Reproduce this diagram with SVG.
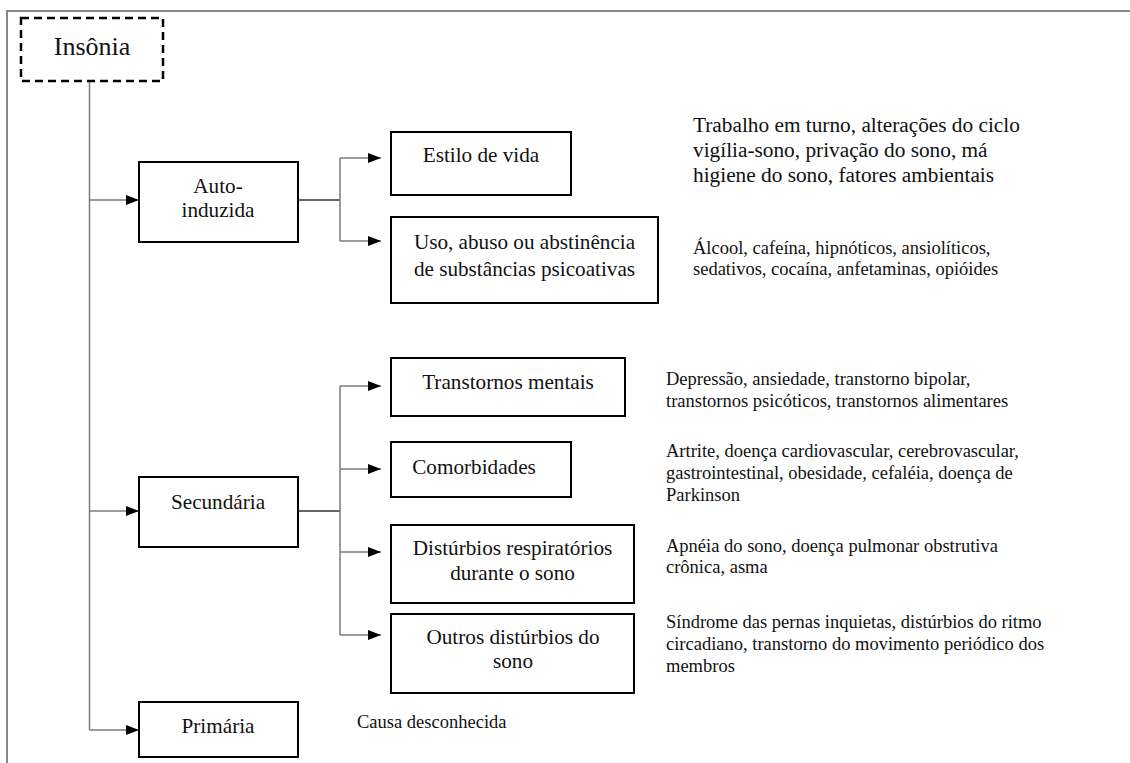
<svg xmlns="http://www.w3.org/2000/svg" width="1130" height="763" viewBox="0 0 1130 763">
<style>
text{font-family:"Liberation Serif","Times New Roman",serif;fill:#111}
.box{fill:#fff;stroke:#000;stroke-width:2}
.lbl{font-size:21.2px;text-anchor:middle}
.desc{font-size:18.5px}
.big{font-size:21.3px}
.con{fill:none;stroke:#7a7a7a;stroke-width:1.5}
.dark{stroke:#333}
</style>
<defs>
<marker id="ah" markerUnits="userSpaceOnUse" markerWidth="14" markerHeight="11" refX="13" refY="5" orient="auto">
<path d="M0,0 L13,5 L0,10 z" fill="#000"/>
</marker>
</defs>
<rect width="1130" height="763" fill="#fff"/>
<path d="M7,763 V11 H1130" fill="none" stroke="#888" stroke-width="2"/>

<g id="connectors">
<path class="con" d="M89.5,81 V730"/>
<path class="con" d="M89.5,200 H139" marker-end="url(#ah)"/>
<path class="con" d="M89.5,511 H139" marker-end="url(#ah)"/>
<path class="con" d="M89.5,730 H139" marker-end="url(#ah)"/>
<path class="con dark" d="M298,200 H340"/>
<path class="con" d="M340,158 V241"/>
<path class="con" d="M340,158 H381" marker-end="url(#ah)"/>
<path class="con" d="M340,241 H381" marker-end="url(#ah)"/>
<path class="con dark" d="M298,511 H340"/>
<path class="con" d="M340,386 V635"/>
<path class="con" d="M340,386 H381" marker-end="url(#ah)"/>
<path class="con" d="M340,469 H381" marker-end="url(#ah)"/>
<path class="con" d="M340,552 H381" marker-end="url(#ah)"/>
<path class="con" d="M340,635 H381" marker-end="url(#ah)"/>
</g>

<g id="insonia">
<rect x="21" y="18" width="142" height="63" fill="#fff" stroke="#000" stroke-width="2.5" stroke-dasharray="8,5"/>
<text x="92" y="55" style="font-size:26px;text-anchor:middle">Insônia</text>
</g>

<g id="auto-induzida">
<rect class="box" x="139" y="162" width="159" height="80"/>
<text class="lbl" x="218" y="193">Auto-</text>
<text class="lbl" x="218" y="217">induzida</text>
</g>

<g id="estilo">
<rect class="box" x="391" y="132" width="180" height="63"/>
<text class="lbl" x="481" y="162">Estilo de vida</text>
</g>

<g id="uso">
<rect class="box" x="391" y="217" width="267" height="86"/>
<text class="lbl" x="524.5" y="249">Uso, abuso ou abstinência</text>
<text class="lbl" x="524.5" y="276">de substâncias psicoativas</text>
</g>

<g id="estilo-desc">
<text class="big" x="693" y="132">Trabalho em turno, alterações do ciclo</text>
<text class="big" x="693" y="157">vigília-sono, privação do sono, má</text>
<text class="big" x="693" y="182">higiene do sono, fatores ambientais</text>
</g>

<g id="uso-desc">
<text class="desc" x="693" y="254">Álcool, cafeína, hipnóticos, ansiolíticos,</text>
<text class="desc" x="693" y="275">sedativos, cocaína, anfetaminas, opióides</text>
</g>

<g id="secundaria">
<rect class="box" x="139" y="477" width="159" height="70"/>
<text class="lbl" x="218" y="509">Secundária</text>
</g>

<g id="transtornos">
<rect class="box" x="391" y="358" width="234" height="58"/>
<text class="lbl" x="508" y="389">Transtornos mentais</text>
</g>

<g id="comorbidades">
<rect class="box" x="391" y="442" width="180" height="55"/>
<text class="lbl" x="474" y="474">Comorbidades</text>
</g>

<g id="disturbios-resp">
<rect class="box" x="391" y="525" width="243" height="78"/>
<text class="lbl" x="512.5" y="555">Distúrbios respiratórios</text>
<text class="lbl" x="512.5" y="580">durante o sono</text>
</g>

<g id="outros">
<rect class="box" x="391" y="614" width="243" height="79"/>
<text class="lbl" x="513" y="644">Outros distúrbios do</text>
<text class="lbl" x="513" y="668">sono</text>
</g>

<g id="transtornos-desc">
<text class="desc" x="666" y="385">Depressão, ansiedade, transtorno bipolar,</text>
<text class="desc" x="666" y="407">transtornos psicóticos, transtornos alimentares</text>
</g>

<g id="comorbidades-desc">
<text class="desc" x="666" y="457">Artrite, doença cardiovascular, cerebrovascular,</text>
<text class="desc" x="666" y="479">gastrointestinal, obesidade, cefaléia, doença de</text>
<text class="desc" x="666" y="501">Parkinson</text>
</g>

<g id="resp-desc">
<text class="desc" x="666" y="552">Apnéia do sono, doença pulmonar obstrutiva</text>
<text class="desc" x="666" y="573">crônica, asma</text>
</g>

<g id="outros-desc">
<text class="desc" x="666" y="628">Síndrome das pernas inquietas, distúrbios do ritmo</text>
<text class="desc" x="666" y="650">circadiano, transtorno do movimento periódico dos</text>
<text class="desc" x="666" y="672">membros</text>
</g>

<g id="primaria">
<rect class="box" x="139" y="702" width="159" height="55"/>
<text class="lbl" x="218" y="733">Primária</text>
</g>

<g id="primaria-desc">
<text class="desc" x="357" y="728">Causa desconhecida</text>
</g>
</svg>
